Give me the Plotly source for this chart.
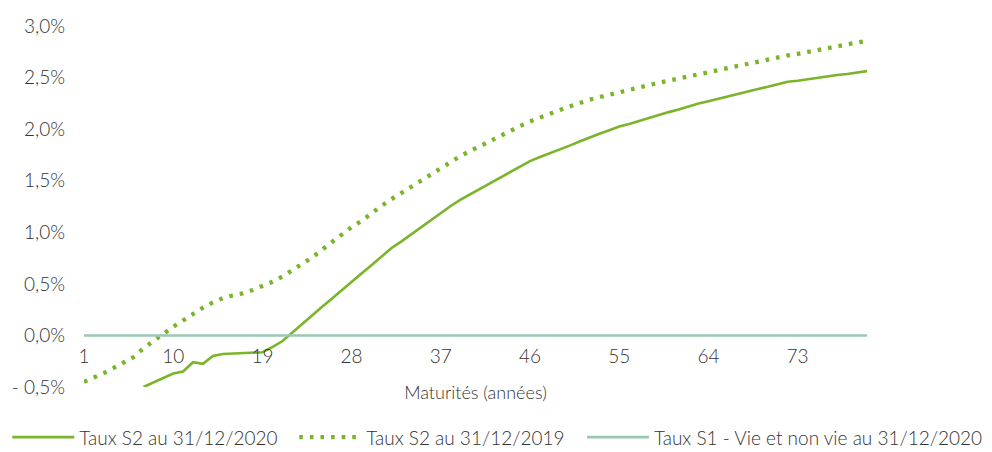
import plotly.graph_objects as go

# Maturities (years)
maturities = list(range(1, 81))

# Taux S2 au 31/12/2020 (visible from maturity 7 on; values in %)
mat_2020 = list(range(7, 81))
taux_s2_2020 = [
    -0.50, -0.455, -0.41, -0.37, -0.35, -0.26, -0.275, -0.20, -0.18, -0.177,
    -0.173, -0.168, -0.163, -0.113, -0.057, 0.025, 0.11, 0.19, 0.275, 0.355,
    0.44, 0.52, 0.60, 0.68, 0.76, 0.845, 0.91, 0.98, 1.05, 1.12,
    1.19, 1.255, 1.316, 1.37, 1.42, 1.475, 1.53, 1.58, 1.635, 1.69,
    1.73, 1.765, 1.80, 1.84, 1.88, 1.92, 1.955, 1.99, 2.025, 2.05,
    2.08, 2.11, 2.135, 2.165, 2.19, 2.22, 2.248, 2.27, 2.295, 2.32,
    2.34, 2.365, 2.39, 2.41, 2.435, 2.46, 2.47, 2.485, 2.50, 2.51,
    2.525, 2.535, 2.55, 2.563,
]

# Taux S2 au 31/12/2019 (values in %)
taux_s2_2019 = [
    -0.45, -0.41, -0.365, -0.315, -0.265, -0.21, -0.125, -0.05, 0.014, 0.083,
    0.147, 0.21, 0.27, 0.32, 0.362, 0.387, 0.408, 0.44, 0.475, 0.52,
    0.57, 0.63, 0.69, 0.755, 0.83, 0.905, 0.98, 1.05, 1.11, 1.185,
    1.255, 1.32, 1.38, 1.445, 1.505, 1.565, 1.625, 1.685, 1.74, 1.79,
    1.84, 1.885, 1.935, 1.98, 2.03, 2.075, 2.115, 2.15, 2.185, 2.22,
    2.255, 2.285, 2.31, 2.335, 2.36, 2.38, 2.405, 2.43, 2.45, 2.47,
    2.49, 2.51, 2.535, 2.56, 2.58, 2.60, 2.62, 2.64, 2.655, 2.675,
    2.695, 2.715, 2.73, 2.75, 2.77, 2.79, 2.81, 2.825, 2.84, 2.855,
]

# Taux S1 - Vie et non vie au 31/12/2020 (values in %)
taux_s1_2020 = [0.0] * len(maturities)

x_tickvals = list(range(1, 80, 9))
y_tickvals = [-0.5, 0.0, 0.5, 1.0, 1.5, 2.0, 2.5, 3.0]
y_ticktext = ["- 0,5%", "0,0%", "0,5%", "1,0%", "1,5%", "2,0%", "2,5%", "3,0%"]

GREEN = "#7ab42a"
TEAL = "#9ac8b0"
TXT = "#333333"
FONT = "Lato"
W = 300

fig = go.Figure()
fig.add_trace(go.Scatter(
    x=mat_2020, y=taux_s2_2020, mode="lines", name="Taux S2 au 31/12/2020",
    line=dict(color=GREEN, width=2.6), legend="legend",
))
fig.add_trace(go.Scatter(
    x=maturities, y=taux_s2_2019, mode="lines", name="Taux S2 au 31/12/2019",
    line=dict(color=GREEN, width=4.3, dash="3.6px,7px"), legend="legend",
))
fig.add_trace(go.Scatter(
    x=maturities, y=taux_s1_2020, mode="lines",
    name="Taux S1 - Vie et non vie au 31/12/2020",
    line=dict(color=TEAL, width=2.6), legend="legend2",
))

y_min, y_max = -0.5, 3.0
zero_pos = (0 - y_min) / (y_max - y_min)

legend_common = dict(
    orientation="h", yanchor="bottom", xanchor="left",
    font=dict(family=FONT, size=19, color=TXT, weight=W),
    itemwidth=62, bgcolor="rgba(0,0,0,0)", traceorder="normal",
)

fig.update_layout(
    width=984, height=444,
    margin=dict(l=76, r=125, t=18, b=65, autoexpand=False),
    paper_bgcolor="white", plot_bgcolor="white",
    font=dict(family=FONT, size=18, color=TXT, weight=W),
    showlegend=True,
    legend=dict(x=-0.098, y=-0.192, entrywidth=210, **legend_common),
    legend2=dict(x=0.636, y=-0.192, **legend_common),
    xaxis=dict(
        range=[1, 80], tickmode="array", tickvals=x_tickvals,
        ticktext=[str(v) for v in x_tickvals],
        showgrid=False, zeroline=False, showline=False, ticks="",
        anchor="free", position=zero_pos,
        tickfont=dict(family=FONT, size=19, color=TXT, weight=W),
        ticklabelstandoff=8,
        title=dict(text="Maturités (années)", standoff=19,
                   font=dict(family=FONT, size=18, color=TXT, weight=W)),
        automargin=False,
    ),
    yaxis=dict(
        range=[y_min, y_max], tickmode="array", tickvals=y_tickvals,
        ticktext=y_ticktext, showgrid=False, zeroline=False, showline=False,
        ticks="", tickfont=dict(family=FONT, size=19, color=TXT, weight=W),
        ticklabelstandoff=18, automargin=False,
    ),
)

fig.write_html("out.html")
